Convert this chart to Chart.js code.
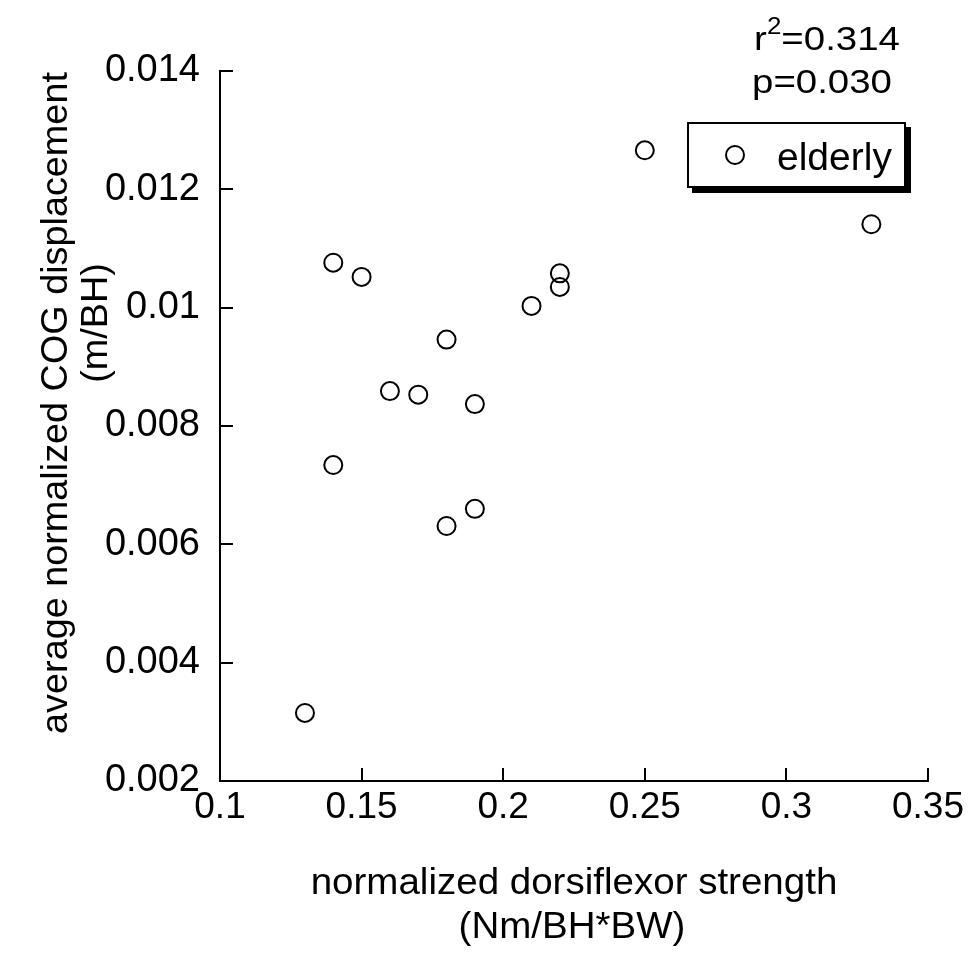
<!DOCTYPE html>
<html>
<head>
<meta charset="utf-8">
<script src="https://cdn.jsdelivr.net/npm/chart.js@4.4.1/dist/chart.umd.min.js"></script>
<style>
  html, body { margin: 0; padding: 0; background: #fff; }
  #wrap { width: 971px; height: 953px; position: relative; }
</style>
</head>
<body>
<div id="wrap"><canvas id="cogChart"></canvas></div>
<script>
// values (elderly group)
const strength = [0.13, 0.14, 0.14, 0.15, 0.16, 0.17, 0.18, 0.18, 0.19, 0.19, 0.21, 0.22, 0.22, 0.25, 0.33];
const cogDisplacement = [0.00315, 0.00734, 0.01076, 0.01052, 0.00859, 0.00853, 0.00946, 0.00631, 0.00837, 0.0066, 0.01003, 0.01058, 0.01035, 0.01266, 0.01141];

const xTickLabels = ['0.1', '0.15', '0.2', '0.25', '0.3', '0.35'];
const yTickLabels = ['0.002', '0.004', '0.006', '0.008', '0.01', '0.012', '0.014'];
const xTickValues = xTickLabels.map(Number);
const yTickValues = yTickLabels.map(Number);

const seriesLabel = 'elderly';
const xTitle = ['normalized dorsiflexor strength', '(Nm/BH*BW)'];
const yTitle = ['average normalized COG displacement', '(m/BH)'];
const r2Value = '0.314';
const pValue = '0.030';

const FONT = '"Liberation Sans", Arial, Helvetica, sans-serif';

function drawText(ctx, text, x, y, size, stretch, rotate) {
    ctx.save();
    ctx.translate(x, y);
    if (rotate) ctx.rotate(-Math.PI / 2);
    ctx.scale(stretch, 1);
    ctx.font = size + 'px ' + FONT;
    ctx.textAlign = 'center';
    ctx.textBaseline = 'middle';
    ctx.fillStyle = '#000';
    ctx.fillText(text, 0, 0);
    ctx.restore();
}

// inward tick marks, axis titles, stats and the boxed legend
const extrasPlugin = {
    id: 'extras',
    afterDraw(chart) {
        const ctx = chart.ctx;
        const { left, bottom } = chart.chartArea;
        const xs = chart.scales.x;
        const ys = chart.scales.y;

        ctx.save();
        ctx.strokeStyle = '#000';
        ctx.lineWidth = 2;
        ctx.beginPath();
        yTickValues.forEach(v => {
            const py = Math.round(ys.getPixelForValue(v));
            ctx.moveTo(left, py);
            ctx.lineTo(left + 13, py);
        });
        xTickValues.forEach(v => {
            const px = Math.round(xs.getPixelForValue(v));
            ctx.moveTo(px, bottom);
            ctx.lineTo(px, bottom - 13);
        });
        ctx.stroke();
        ctx.restore();

        // axis titles
        drawText(ctx, xTitle[0], 574, 884, 36, 1.07, false);
        drawText(ctx, xTitle[1], 572, 928, 36, 1.07, false);
        drawText(ctx, yTitle[0], 57, 403, 36, 1.05, true);
        drawText(ctx, yTitle[1], 97, 323, 36, 1.05, true);

        // r^2 and p
        ctx.save();
        ctx.fillStyle = '#000';
        ctx.textBaseline = 'alphabetic';
        const st = 1.13;
        ctx.font = '34px ' + FONT;
        const wR = ctx.measureText('r').width;
        const wEq = ctx.measureText('=' + r2Value).width;
        ctx.font = '23px ' + FONT;
        const wSup = ctx.measureText('2').width;
        const total = (wR + wSup + wEq) * st;
        ctx.translate(827 - total / 2, 50);
        ctx.scale(st, 1);
        ctx.textAlign = 'left';
        ctx.font = '34px ' + FONT;
        ctx.fillText('r', 0, 0);
        ctx.font = '23px ' + FONT;
        ctx.fillText('2', wR, -16);
        ctx.font = '34px ' + FONT;
        ctx.fillText('=' + r2Value, wR + wSup, 0);
        ctx.restore();

        ctx.save();
        ctx.fillStyle = '#000';
        ctx.translate(822, 93);
        ctx.scale(st, 1);
        ctx.font = '34px ' + FONT;
        ctx.textAlign = 'center';
        ctx.textBaseline = 'alphabetic';
        ctx.fillText('p=' + pValue, 0, 0);
        ctx.restore();

        // legend box with drop shadow
        ctx.save();
        ctx.fillStyle = '#000';
        ctx.fillRect(692, 127, 219, 66);
        ctx.fillStyle = '#fff';
        ctx.fillRect(687, 122, 219, 66);
        ctx.strokeStyle = '#000';
        ctx.lineWidth = 2;
        ctx.strokeRect(688, 123, 217, 64);
        ctx.beginPath();
        ctx.arc(735, 155, 9, 0, Math.PI * 2);
        ctx.stroke();
        ctx.fillStyle = '#000';
        ctx.font = '39px ' + FONT;
        ctx.textAlign = 'left';
        ctx.textBaseline = 'alphabetic';
        ctx.fillText(chart.data.datasets[0].label, 777, 170);
        ctx.restore();
    }
};

const ctx = document.getElementById('cogChart').getContext('2d');

new Chart(ctx, {
    type: 'scatter',
    data: {
        datasets: [{
            label: seriesLabel,
            data: strength.map((x, i) => ({ x: x, y: cogDisplacement[i] })),
            pointRadius: 9,
            pointHoverRadius: 9,
            pointBorderWidth: 2,
            borderColor: '#000',
            backgroundColor: 'rgba(255, 255, 255, 0)'
        }]
    },
    options: {
        responsive: true,
        maintainAspectRatio: false,
        animation: false,
        layout: {
            padding: { left: 0, top: 71, right: 43, bottom: 0 }
        },
        plugins: {
            legend: { display: false },
            tooltip: { enabled: false }
        },
        scales: {
            x: {
                type: 'linear',
                min: 0.1,
                max: 0.35,
                afterBuildTicks: scale => {
                    scale.ticks = xTickValues.map(v => ({ value: v }));
                },
                afterFit: scale => {
                    scale.height = 172;
                },
                grid: { display: false },
                border: { display: true, color: '#000', width: 2 },
                ticks: {
                    color: '#000',
                    padding: -3,
                    maxRotation: 0,
                    autoSkip: false,
                    font: { size: 37, family: FONT },
                    callback: (value, index) => xTickLabels[index]
                }
            },
            y: {
                type: 'linear',
                min: 0.002,
                max: 0.014,
                afterBuildTicks: scale => {
                    scale.ticks = yTickValues.map(v => ({ value: v }));
                },
                afterFit: scale => {
                    scale.width = 220;
                },
                grid: { display: false },
                border: { display: true, color: '#000', width: 2 },
                ticks: {
                    color: '#000',
                    padding: 12,
                    autoSkip: false,
                    font: { size: 38, family: FONT },
                    callback: (value, index) => yTickLabels[index]
                }
            }
        }
    },
    plugins: [extrasPlugin]
});
</script>
</body>
</html>
